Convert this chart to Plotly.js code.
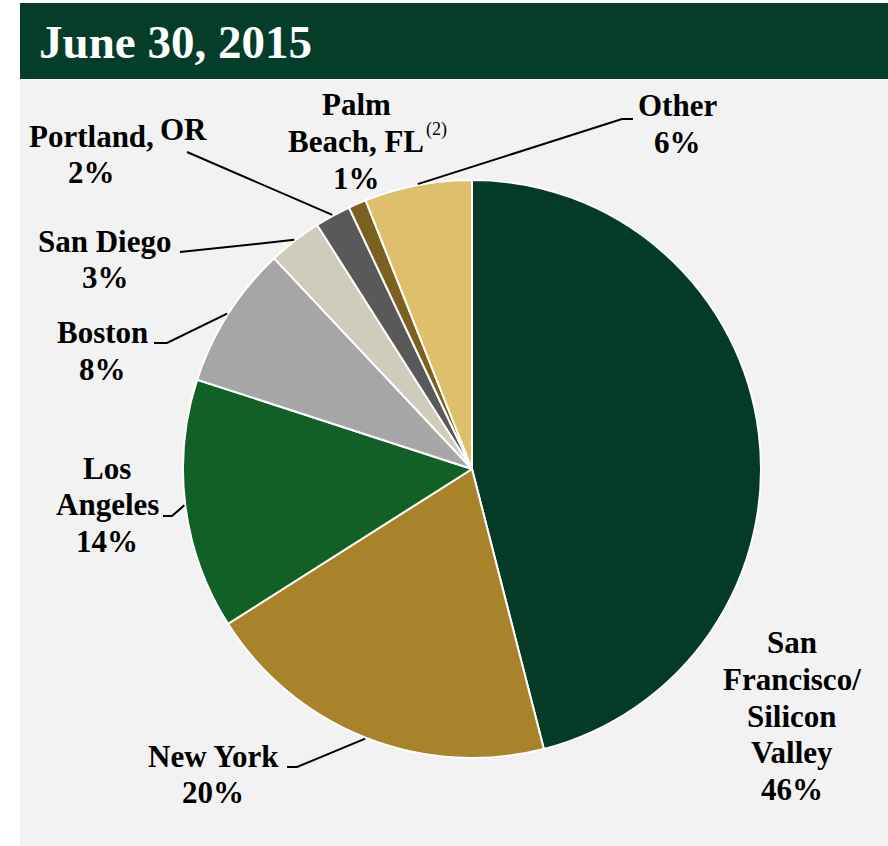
<!DOCTYPE html>
<html>
<head>
<meta charset="utf-8">
<script src="https://cdn.plot.ly/plotly-3.0.1.min.js"></script>
<style>html,body{margin:0;padding:0;background:#fff;}#chart{width:888px;height:846px;}</style>
</head>
<body>
<div id="chart"></div>
<script>
// ---- data ----
const categories = ["San Francisco/Silicon Valley", "New York", "Los Angeles", "Boston", "San Diego", "Portland, OR", "Palm Beach, FL", "Other"];
const values = [46, 20, 14, 8, 3, 2, 1, 6];
const pctLabels = ["46%", "20%", "14%", "8%", "3%", "2%", "1%", "6%"];
const labelLines = [
  ["San", "Francisco/", "Silicon", "Valley"],
  ["New York"],
  ["Los", "Angeles"],
  ["Boston"],
  ["San Diego"],
  ["Portland,"],
  ["Palm", "Beach, FL"],
  ["Other"]
];
const colors = ["#033b27", "#a8832a", "#116127", "#a6a6a6", "#d0ccbb", "#595959", "#7b611f", "#dfbf6b"];
const chartTitle = "June 30, 2015";

// ---- layout helpers (pixel -> paper) ----
const W = 888, H = 846;
const px = x => x / W;
const py = y => 1 - y / H;
const CX = 472, CY = 469, R = 289;
const LINE_GAP = 36.8;

// label block placement: [x centre, y of first line centre]
const labelPos = [
  [792, 642.5], [213, 756], [107, 468], [102, 332.5],
  [105, 241], [91, 136], [356, 104.5], [677, 106]
];
// leader line label-side points (null = no leader)
const leaderPts = [
  null,
  [[287, 767], [297, 767]],
  [[163, 516], [172, 516]],
  [[154, 343], [167, 343]],
  [[180, 252]],
  [[187, 152]],
  null,
  [[633, 119], [622, 119]]
];

const total = values.reduce((a, b) => a + b, 0);
let cum = 0;
const tips = values.map(v => {
  const th = 2 * Math.PI * (cum + v / 2) / total;
  cum += v;
  return [CX + (R + 1) * Math.sin(th), CY - (R + 1) * Math.cos(th)];
});

const FAM = "Liberation Serif, Times New Roman, serif";
const font = {family: FAM, size: 31, color: "#000", weight: "bold"};

const annotations = [];
categories.forEach((c, i) => {
  const lines = labelLines[i].concat([pctLabels[i]]);
  lines.forEach((t, k) => {
    annotations.push({
      xref: "paper", yref: "paper", x: px(labelPos[i][0]), y: py(labelPos[i][1] + k * LINE_GAP),
      xanchor: "center", yanchor: "middle", showarrow: false, text: t, font: font
    });
  });
});
annotations.push({xref: "paper", yref: "paper", x: px(183), y: py(129), xanchor: "center", yanchor: "middle",
  showarrow: false, text: "OR", font: font});
annotations.push({xref: "paper", yref: "paper", x: px(436), y: py(129), xanchor: "center", yanchor: "middle",
  showarrow: false, text: "(2)", font: {family: FAM, size: 18, color: "#000", weight: "normal"}});
annotations.push({xref: "paper", yref: "paper", x: px(37), y: py(42), xanchor: "left", yanchor: "middle",
  showarrow: false, text: chartTitle,
  font: {family: FAM, size: 47, color: "#ffffff", weight: "bold"}});

const shapes = [
  {type: "rect", xref: "paper", yref: "paper", x0: px(20), x1: px(888), y0: py(846), y1: py(80),
    fillcolor: "#f2f2f2", line: {width: 0}, layer: "below"},
  {type: "rect", xref: "paper", yref: "paper", x0: px(20), x1: px(888), y0: py(79), y1: py(3),
    fillcolor: "#043d29", line: {width: 0}, layer: "below"}
];
leaderPts.forEach((pts, i) => {
  if (!pts) return;
  const all = pts.concat([tips[i]]);
  let path = "";
  all.forEach((p, k) => { path += (k ? " L " : "M ") + px(p[0]) + "," + py(p[1]); });
  shapes.push({type: "path", xref: "paper", yref: "paper", path: path, line: {color: "#000", width: 2}, layer: "above"});
});

const trace = {
  type: "pie",
  labels: categories,
  values: values,
  sort: false,
  direction: "clockwise",
  rotation: 0,
  marker: {colors: colors, line: {color: "#ffffff", width: 2}},
  textinfo: "none",
  hoverinfo: "none",
  showlegend: false,
  domain: {x: [px(CX - R), px(CX + R)], y: [py(CY + R), py(CY - R)]}
};

Plotly.newPlot("chart", [trace], {
  width: W, height: H,
  margin: {l: 0, r: 0, t: 0, b: 0},
  paper_bgcolor: "#ffffff",
  font: {family: FAM},
  showlegend: false,
  annotations: annotations,
  shapes: shapes
}, {displayModeBar: false, staticPlot: true});
</script>
</body>
</html>
